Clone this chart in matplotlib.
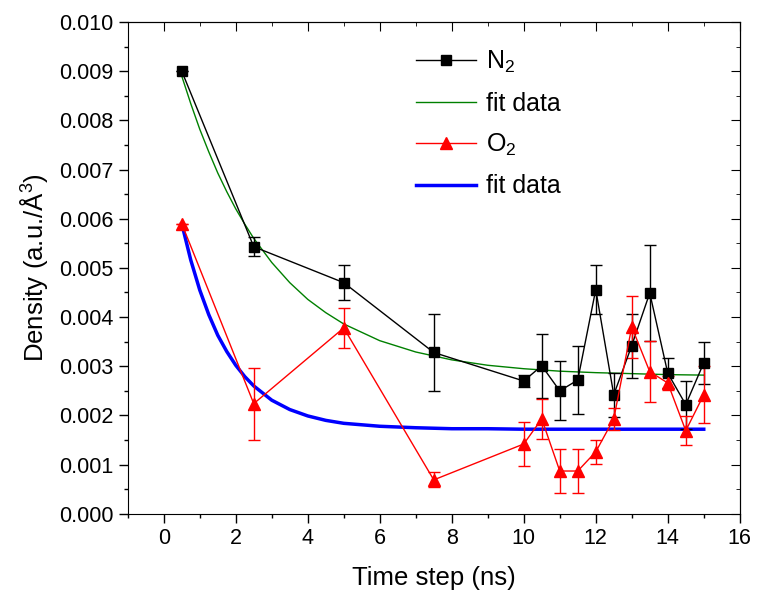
import matplotlib.pyplot as plt
from matplotlib.lines import Line2D

plt.rcParams['font.family'] = ['Liberation Sans', 'DejaVu Sans']
plt.rcParams['mathtext.fontset'] = 'custom'
plt.rcParams['mathtext.rm'] = 'Liberation Sans'
plt.rcParams['mathtext.it'] = 'Liberation Sans'

# time steps (ns)
t = [0.5, 2.5, 5, 7.5, 10, 10.5, 11, 11.5, 12, 12.5, 13, 13.5, 14, 14.5, 15]

# N2 density and error
n2 = [0.00900, 0.00543, 0.00470, 0.00328, 0.00270, 0.00301, 0.00250, 0.00272,
      0.00456, 0.00242, 0.00342, 0.00449, 0.00286, 0.00222, 0.00307]
n2_err = [0.0, 0.00019, 0.00035, 0.00078, 0.00013, 0.00065, 0.00060, 0.00070,
          0.00049, 0.00045, 0.00065, 0.00097, 0.00030, 0.00049, 0.00043]

# O2 density and error
o2 = [0.00590, 0.00224, 0.00378, 0.00069, 0.00142, 0.00193, 0.00087, 0.00087,
      0.00126, 0.00193, 0.00380, 0.00289, 0.00266, 0.00169, 0.00242]
o2_err = [0.0, 0.00073, 0.00040, 0.00015, 0.00045, 0.00040, 0.00045, 0.00045,
          0.00025, 0.00022, 0.00063, 0.00062, 0.00015, 0.00030, 0.00058]

# fit curves
fit_t = [0.5, 0.75, 1.0, 1.25, 1.5, 1.75, 2.0, 2.25, 2.5, 3.0, 3.5, 4.0, 4.5,
         5.0, 6.0, 7.0, 8.0, 9.0, 10.0, 11.0, 12.0, 13.0, 14.0, 15.0]
fit_n2 = [0.00890, 0.00834, 0.00782, 0.00736, 0.00693, 0.00655, 0.00620, 0.00589,
          0.00560, 0.00511, 0.00470, 0.00436, 0.00409, 0.00386, 0.00352, 0.00329,
          0.00313, 0.00302, 0.00295, 0.00290, 0.00287, 0.00285, 0.00283, 0.00282]
fit_o2 = [0.00590, 0.00516, 0.00455, 0.00405, 0.00363, 0.00330, 0.00302, 0.00279,
          0.00260, 0.00231, 0.00212, 0.00199, 0.00190, 0.00184, 0.00178, 0.00175,
          0.00173, 0.00173, 0.00172, 0.00172, 0.00172, 0.00172, 0.00172, 0.00172]

fig = plt.figure(figsize=(7.65, 5.94), dpi=100)
ax = fig.add_axes([0.167, 0.135, 0.8, 0.828])

ax.errorbar(t, n2, yerr=n2_err, color='black', lw=1, marker='s', ms=7,
            capsize=4, elinewidth=1, capthick=1, zorder=3)
ax.plot(fit_t, fit_n2, color='#008000', lw=1, zorder=2)
ax.errorbar(t, o2, yerr=o2_err, color='red', lw=1, marker='^', ms=9,
            capsize=4, elinewidth=1, capthick=1, zorder=3)
ax.plot(fit_t, fit_o2, color='#0000ff', lw=2.5, zorder=2)

ax.set_xlim(-1, 16)
ax.set_ylim(0, 0.010)
ax.set_xticks(range(0, 17, 2))
ax.set_xticks(range(-1, 17, 1), minor=True)
ax.set_yticks([i * 0.001 for i in range(11)])
ax.set_yticks([i * 0.0005 for i in range(21)], minor=True)
ax.set_yticklabels(['%.3f' % (i * 0.001) for i in range(11)])
ax.tick_params(which='major', direction='out', length=6.5, width=1, labelsize=15.5, pad=4)
ax.tick_params(which='minor', direction='out', length=3, width=1)

top = ax.secondary_xaxis('top')
top.set_xticks(range(0, 17, 2))
top.set_xticks(range(-1, 17, 1), minor=True)
top.tick_params(which='major', direction='in', length=6.5, labeltop=False)
top.tick_params(which='minor', direction='in', length=3)
right = ax.secondary_yaxis('right')
right.set_yticks([i * 0.001 for i in range(11)])
right.set_yticks([i * 0.0005 for i in range(21)], minor=True)
right.tick_params(which='major', direction='in', length=6.5, labelright=False)
right.tick_params(which='minor', direction='in', length=3)

ax.set_xlabel('Time step (ns)', fontsize=18.5, labelpad=12)
ax.set_ylabel('Density (a.u./Å$^3$)', fontsize=18.5, labelpad=6)

handles = [
    Line2D([], [], color='black', lw=1, marker='s', ms=7),
    Line2D([], [], color='#008000', lw=1),
    Line2D([], [], color='red', lw=1, marker='^', ms=9),
    Line2D([], [], color='#0000ff', lw=2.5),
]
labels = ['N$_2$', 'fit data', 'O$_2$', 'fit data']
ax.legend(handles, labels, loc='upper left', bbox_to_anchor=(0.45, 0.97),
          frameon=False, borderpad=0, fontsize=18, handlelength=2.4,
          labelspacing=0.65, handletextpad=0.4)

plt.savefig('out.png', dpi=100)
